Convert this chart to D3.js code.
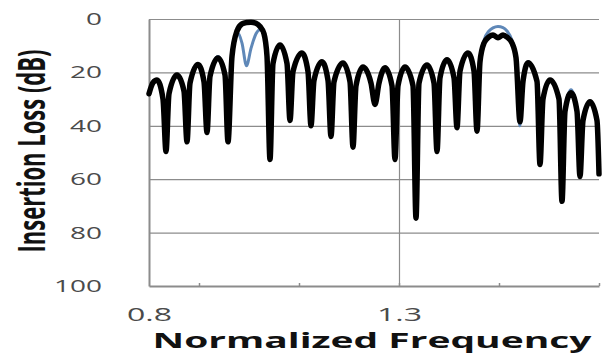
<!DOCTYPE html>
<head>
  <meta charset="utf-8">
  <script src="https://d3js.org/d3.v7.min.js"></script>
  <style>
    body { margin: 0; background: #fff; }
    .grid line { stroke: #8c8c8c; stroke-width: 1.2; }
    .grid path { display: none; }
    .axis path { stroke: #8c8c8c; stroke-width: 2; }
    .axis line { stroke: #8c8c8c; stroke-width: 1.5; }
    .ticklabel text { font-family: 'Open Sans', sans-serif; fill: #4a4a4a; }
    .ticklabel path { display: none; }
  </style>
</head>
<body>
<script>
  // values (frequency, insertion loss in dB)
  var freq = [0.800, 0.808, 0.816, 0.828, 0.834, 0.840, 0.856, 0.870, 0.876, 0.882,
              0.898, 0.910, 0.916, 0.922, 0.938, 0.952, 0.958, 0.966, 0.976, 0.986,
              0.995, 1.004, 1.014, 1.022, 1.030, 1.036, 1.042, 1.048, 1.062, 1.076,
              1.082, 1.088, 1.106, 1.118, 1.124, 1.130, 1.146, 1.158, 1.164, 1.170,
              1.188, 1.202, 1.208, 1.214, 1.228, 1.244, 1.252, 1.260, 1.272, 1.286,
              1.292, 1.298, 1.312, 1.328, 1.334, 1.340, 1.356, 1.370, 1.376, 1.382,
              1.396, 1.410, 1.416, 1.422, 1.438, 1.450, 1.456, 1.462, 1.470, 1.480,
              1.488, 1.498, 1.508, 1.516, 1.526, 1.534, 1.542, 1.548, 1.558, 1.576,
              1.582, 1.588, 1.602, 1.620, 1.626, 1.632, 1.644, 1.656, 1.662, 1.668,
              1.682, 1.696, 1.700];

  var measured = [28, 23.8, 22.8, 30, 49.6, 28, 21, 27, 46, 24,
                  17, 23.5, 42.5, 21.5, 14.6, 21, 46, 14, 4.5, 1.8,
                  1.3, 1.2, 1.6, 2.8, 5.5, 14, 52.6, 16.7, 9.7, 16.7,
                  38, 19.7, 12.7, 19.7, 40, 23, 16, 23, 44, 23.5,
                  16.5, 23.5, 48, 25, 18, 24, 32, 24, 18.3, 25,
                  52.6, 25, 18, 25, 74.6, 24, 17.2, 24, 49.6, 22,
                  15.3, 22, 40.7, 19.5, 12.7, 19.5, 42, 16, 9, 6.7,
                  6, 7, 6, 6.8, 9, 14.5, 38.5, 23.4, 16.4, 23.4,
                  54.5, 30, 22.8, 30, 68.3, 34.6, 27.6, 34.6, 59, 38,
                  31, 38, 58];

  var simulated = [28, 23.8, 22.8, 30, 49.6, 28, 21, 27, 46, 24,
                   17, 23.5, 42.5, 21, 14, 21, 46, 14, 5, 9,
                   17.5, 11, 5.5, 4, 6, 14, 52.6, 16.7, 9.7, 16.7,
                   38, 19.7, 12.7, 19.7, 40, 23, 16, 23, 44, 23.5,
                   16.5, 23.5, 48, 25, 18, 24, 32, 24, 18.3, 25,
                   52.6, 25, 18, 25, 74.6, 24, 17.2, 24, 49.6, 22,
                   15.3, 22, 40.7, 19.5, 12.7, 19.5, 42, 16, 8, 4.5,
                   3.3, 2.8, 3.2, 4.5, 8, 14, 40, 23, 16, 23,
                   54.5, 30, 22.8, 30, 68.3, 34, 26.5, 34, 59, 38,
                   31, 38, 58];

  var yTicks = [0, 20, 40, 60, 80, 100];
  var xLabelTicks = [0.8, 1.3];
  var xMinorTicks = [0.9, 1.1, 1.3, 1.5, 1.7];

  var width = 604, height = 353;
  var plotLeft = 149, plotRight = 599, plotTop = 19, plotBottom = 286;

  var svg = d3.select("body").append("svg")
      .attr("width", width)
      .attr("height", height);

  var x = d3.scaleLinear().domain([0.8, 1.7]).range([plotLeft, plotRight]);
  var y = d3.scaleLinear().domain([0, 100]).range([plotTop, plotBottom]);

  // horizontal gridlines
  svg.append("g")
      .attr("class", "grid")
      .attr("transform", "translate(" + plotLeft + ",0)")
      .call(d3.axisLeft(y).tickValues([0, 20, 40, 60, 80]).tickSize(-(plotRight - plotLeft)).tickFormat(""));

  // vertical gridline at 1.3
  svg.append("g")
      .attr("class", "grid")
      .attr("transform", "translate(0," + plotBottom + ")")
      .call(d3.axisBottom(x).tickValues([1.3]).tickSize(-(plotBottom - plotTop)).tickFormat(""));

  // axis lines + small inner ticks
  svg.append("g")
      .attr("class", "axis")
      .attr("transform", "translate(" + plotLeft + ",0)")
      .call(d3.axisLeft(y).tickValues([]).tickSizeOuter(0));

  svg.append("g")
      .attr("class", "axis")
      .attr("transform", "translate(0," + plotBottom + ")")
      .call(d3.axisBottom(x).tickValues(xMinorTicks).tickSizeInner(-3).tickSizeOuter(0).tickFormat(""));

  // tick labels
  var yl = svg.append("g")
      .attr("class", "ticklabel")
      .attr("transform", "translate(" + plotLeft + ",0)")
      .call(d3.axisLeft(y).tickValues(yTicks).tickSize(0).tickPadding(47));
  yl.selectAll("line").remove();
  yl.selectAll("text")
      .style("font-size", "17px")
      .attr("lengthAdjust", "spacingAndGlyphs")
      .attr("textLength", function(d) { return String(d).length * 16; });

  var xl = svg.append("g")
      .attr("class", "ticklabel")
      .attr("transform", "translate(0," + plotBottom + ")")
      .call(d3.axisBottom(x).tickValues(xLabelTicks).tickSize(0).tickPadding(22).tickFormat(d3.format(".1f")));
  xl.selectAll("line").remove();
  xl.selectAll("text")
      .style("font-size", "19px")
      .attr("lengthAdjust", "spacingAndGlyphs")
      .attr("textLength", 45);

  // curves
  var pts = function(vals) { return freq.map(function(f, i) { return [f, vals[i]]; }); };
  var line = d3.line()
      .x(function(d) { return x(d[0]); })
      .y(function(d) { return y(d[1]); })
      .curve(d3.curveMonotoneX);

  svg.append("path")
      .datum(pts(simulated))
      .attr("fill", "none")
      .attr("stroke", "#5f88b8")
      .attr("stroke-width", 3)
      .attr("d", line);

  svg.append("path")
      .datum(pts(measured))
      .attr("fill", "none")
      .attr("stroke", "#000")
      .attr("stroke-width", 5.5)
      .attr("stroke-linejoin", "round")
      .attr("stroke-linecap", "round")
      .attr("d", line);

  // titles
  svg.append("text")
      .attr("x", 372)
      .attr("y", 348)
      .attr("text-anchor", "middle")
      .style("font-family", "'Open Sans', sans-serif")
      .style("font-weight", "bold")
      .style("font-size", "22px")
      .attr("fill", "#111")
      .attr("lengthAdjust", "spacingAndGlyphs")
      .attr("textLength", 439)
      .text("Normalized Frequency");

  svg.append("text")
      .attr("transform", "translate(45,151) rotate(-90)")
      .attr("text-anchor", "middle")
      .style("font-family", "'Open Sans', sans-serif")
      .style("font-weight", "bold")
      .style("font-size", "38px")
      .attr("fill", "#111")
      .attr("lengthAdjust", "spacingAndGlyphs")
      .attr("textLength", 203)
      .text("Insertion Loss (dB)");
</script>
</body>
